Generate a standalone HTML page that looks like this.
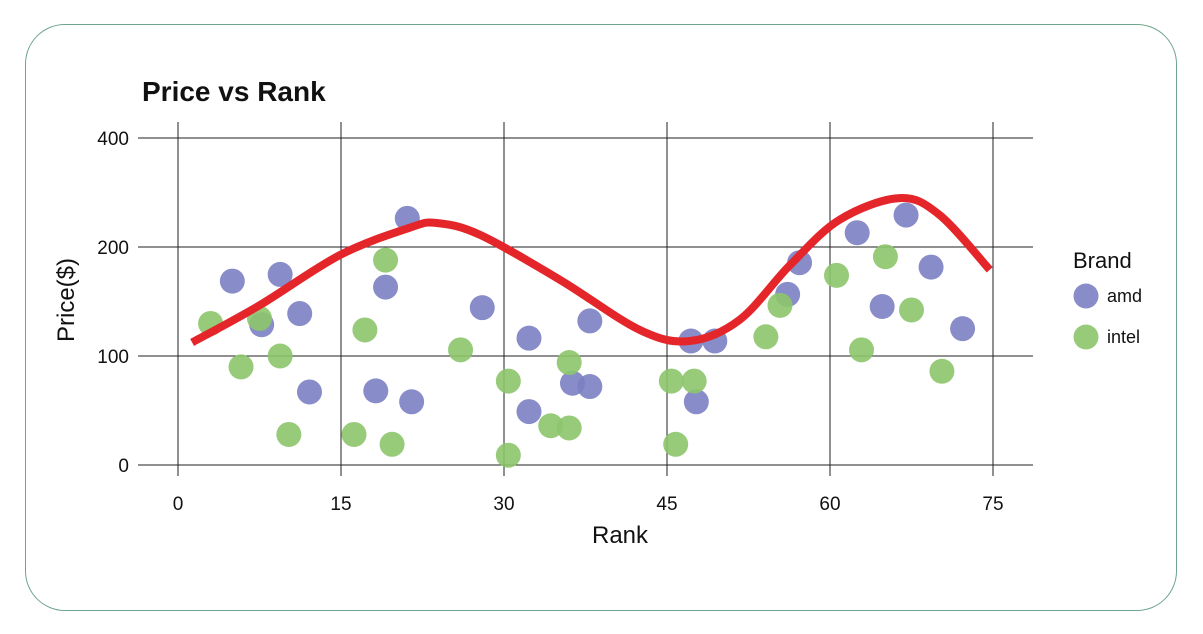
<!DOCTYPE html>
<html><head><meta charset="utf-8"><style>
body{margin:0;width:1203px;height:634px;background:#fff;font-family:"Liberation Sans",sans-serif;overflow:hidden}
#card{position:absolute;left:25px;top:24px;width:1152px;height:587px;border:1.5px solid #6fa58c;border-radius:40px;box-sizing:border-box}
svg{position:absolute;left:0;top:0}
</style></head><body>
<div id="card"></div>
<svg id="chart" width="1203" height="634">
<text x="142" y="101" font-size="28" font-weight="bold" fill="#111">Price vs Rank</text>
<g id="grid"></g><g id="pts"></g><g id="trend"></g><g id="axes"></g>
<text x="620" y="543" font-size="24" text-anchor="middle" fill="#111">Rank</text>
<text transform="translate(74,300) rotate(-90)" font-size="24" text-anchor="middle" fill="#111">Price($)</text>
<g>
<text x="1073" y="268" font-size="22" fill="#111">Brand</text>
<circle cx="1086" cy="296" r="12.5" fill="#7b80c2" fill-opacity="0.9"/>
<text x="1107" y="302" font-size="18" fill="#111">amd</text>
<circle cx="1086" cy="337" r="12.5" fill="#8cc56b" fill-opacity="0.9"/>
<text x="1107" y="343" font-size="18" fill="#111">intel</text>
</g>
</svg>
<script>
const xTicks=[0,15,30,45,60,75];
const yTicks=[0,100,200,400];
const amdRank=[5,9.4,7.7,11.2,12.1,18.2,19.1,21.1,21.5,28,32.3,32.3,36.3,37.9,37.9,47.2,47.7,49.4,56.1,57.2,62.5,64.8,67,69.3,72.2];
const amdPrice=[161,168,122,131,67,68,155,240,58,136,112,49,75,72,125,110,58,110,148,181,219,137,245,176,119];
const intelRank=[3,5.8,7.5,9.4,10.2,16.2,17.2,19.1,19.7,26,30.4,30.4,34.3,36,36,45.4,45.8,47.5,54.1,55.4,60.6,62.9,65.1,67.5,70.3];
const intelPrice=[123,90,127,100,28,28,118,184,19,104,77,9,36,94,34,77,19,77,113,138,167,104,188,134,86];
const trendRank=[1.3,7.5,14.9,21.3,23.8,27.8,35.2,42.5,47.1,51.7,56.3,60.9,66.4,70.1,74.7];
const trendPrice=[109,138,190,226,233,216,162,118,110,126,178,238,273,245,173];
const NS="http://www.w3.org/2000/svg";
function X(r){return 178+r*(993-178)/75;}
function Y(v){return v<=100?465-v*1.09:356-109*Math.log2(v/100);}
function mk(tag,attrs,parent){const e=document.createElementNS(NS,tag);for(const k in attrs)e.setAttribute(k,attrs[k]);parent.appendChild(e);return e;}
const grid=document.getElementById('grid'),axes=document.getElementById('axes');
xTicks.forEach(t=>{
 const l=mk('line',{x1:X(t),x2:X(t),y1:122,y2:476,stroke:'#222','stroke-width':1},grid);
 
 
 const tx=mk('text',{x:X(t),y:510,'font-size':19,'text-anchor':'middle',fill:'#111'},axes);
 tx.textContent=t;
 
 
});
yTicks.forEach(t=>{
 const l=mk('line',{x1:138,x2:1033,y1:Y(t),y2:Y(t),stroke:'#222','stroke-width':1},grid);
 
 
 const tx=mk('text',{x:129,y:Y(t)+7,'font-size':19,'text-anchor':'end',fill:'#111'},axes);
 tx.textContent=t;
 
 
});
const pts=document.getElementById('pts');
amdRank.forEach((r,i)=>{
 const c=mk('circle',{cx:X(r),cy:Y(amdPrice[i]),r:12.5,fill:'#7b80c2','fill-opacity':0.9},pts);
 
 
});
intelRank.forEach((r,i)=>{
 const c=mk('circle',{cx:X(r),cy:Y(intelPrice[i]),r:12.5,fill:'#8cc56b','fill-opacity':0.9},pts);
 
 
});
const P=trendRank.map((r,i)=>[X(r),Y(trendPrice[i])]);
let d='M'+P[0][0]+','+P[0][1];
for(let i=0;i<P.length-1;i++){
 const p0=P[Math.max(0,i-1)],p1=P[i],p2=P[i+1],p3=P[Math.min(P.length-1,i+2)];
 d+=' C'+(p1[0]+(p2[0]-p0[0])/6)+','+(p1[1]+(p2[1]-p0[1])/6)+' '+(p2[0]-(p3[0]-p1[0])/6)+','+(p2[1]-(p3[1]-p1[1])/6)+' '+p2[0]+','+p2[1];
}
const tl=mk('path',{d:d,fill:'none',stroke:'#e4262b','stroke-width':8},document.getElementById('trend'));


</script>
</body></html>
